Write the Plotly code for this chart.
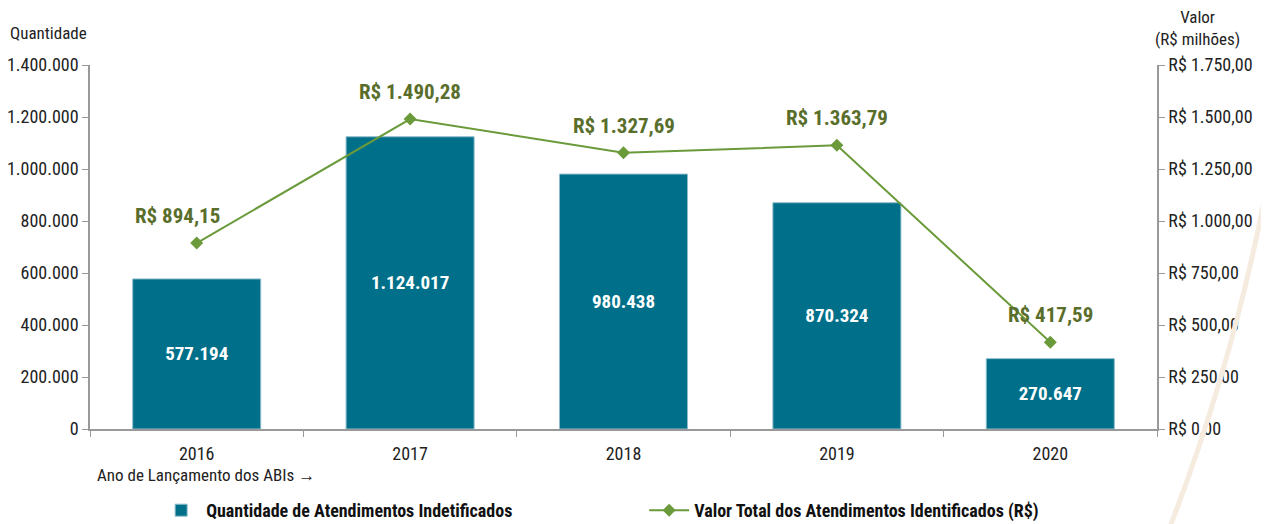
import plotly.graph_objects as go

anos = ["2016", "2017", "2018", "2019", "2020"]
quantidade = [577194, 1124017, 980438, 870324, 270647]
valor_milhoes = [894.15, 1490.28, 1327.69, 1363.79, 417.59]

nome_barras = "Quantidade de Atendimentos Indetificados"
nome_linha = "Valor Total dos Atendimentos Identificados (R$)"

FONTE = "Liberation Sans Narrow, Roboto Condensed, Arial Narrow, Roboto, sans-serif"
AZUL = "#00708a"
VERDE = "#6a9a3a"
VERDE_ESCURO = "#5a6e2c"


def brl(v):
    s = f"{v:,.2f}"
    return "R$ " + s.replace(",", "X").replace(".", ",").replace("X", ".")


fig = go.Figure()

# traco decorativo bege na lateral direita
fig.add_shape(
    type="path",
    xref="paper", yref="paper",
    path="M 1.105 0.70 Q 1.074 0.20 1.012 -0.27",
    line=dict(color="#f5ebdf", width=5),
    layer="above",
)

fig.add_trace(
    go.Bar(
        x=anos,
        y=quantidade,
        name=nome_barras,
        marker=dict(color=AZUL, line=dict(color="#8fbccb", width=1)),
        texttemplate="%{y:,.0f}",
        textposition="inside",
        insidetextanchor="middle",
        textfont=dict(color="white", size=19, family=FONTE, weight="bold"),
        yaxis="y",
    )
)

fig.add_trace(
    go.Scatter(
        x=anos,
        y=valor_milhoes,
        name=nome_linha,
        mode="lines+markers",
        line=dict(color=VERDE, width=2),
        marker=dict(symbol="diamond", size=10, color=VERDE),
        yaxis="y2",
    )
)

# rotulos de valor acima da linha
for i, (a, v) in enumerate(zip(anos, valor_milhoes)):
    fig.add_annotation(
        x=i,
        y=v,
        xref="x",
        yref="y2",
        text=brl(v),
        showarrow=False,
        yshift=27,
        xshift=-19 if i == 0 else 0,
        font=dict(color=VERDE_ESCURO, size=21, family=FONTE, weight="bold"),
    )

fig.add_annotation(
    x=0, xref="paper", xshift=-82, xanchor="left",
    y=1, yref="paper", yshift=32, yanchor="middle",
    text="Quantidade", showarrow=False,
    font=dict(size=17, color="#222", family=FONTE),
)
fig.add_annotation(
    x=1, xref="paper", xshift=40, xanchor="center",
    y=1, yref="paper", yshift=37, yanchor="middle",
    text="Valor<br>(R$ milhões)", showarrow=False,
    font=dict(size=17, color="#222", family=FONTE),
)
fig.add_annotation(
    x=0, xref="paper", xshift=5, xanchor="left",
    y=0, yref="paper", yshift=-46, yanchor="middle",
    text="Ano de Lançamento dos ABIs \u2192", showarrow=False,
    font=dict(size=17, color="#222", family=FONTE),
)

fig.update_layout(
    width=1261,
    height=516,
    margin=dict(l=82, r=112, t=57, b=95, autoexpand=False),
    plot_bgcolor="white",
    paper_bgcolor="white",
    separators=",.",
    bargap=0.4,
    showlegend=True,
    font=dict(family=FONTE, size=18, color="#222"),
    legend=dict(
        orientation="h",
        x=0.062, xanchor="left",
        y=-0.173, yanchor="top",
        entrywidth=433, entrywidthmode="pixels",
        font=dict(size=18, family=FONTE, color="#111", weight="bold"),
        itemwidth=40,
        tracegroupgap=0,
    ),
    xaxis=dict(
        type="category",
        range=[-0.5, 4.5], autorange=False,
        showline=True, linecolor="#999", linewidth=1.5,
        ticks="outside", tickcolor="#999", ticklen=6,
        tickson="boundaries", showgrid=False,
        ticklabelstandoff=8,
        tickfont=dict(size=18, color="#222"),
    ),
    yaxis=dict(
        range=[0, 1400000], dtick=200000, tickformat=",.0f",
        showline=True, linecolor="#999", linewidth=1.5,
        ticks="outside", tickcolor="#999", ticklen=6,
        showgrid=False, zeroline=False,
        tickfont=dict(size=18, color="#222"),
    ),
    yaxis2=dict(
        range=[0, 1750], dtick=250, tickformat=",.2f", tickprefix="R$ ",
        overlaying="y", side="right",
        showline=True, linecolor="#999", linewidth=1.5,
        ticks="outside", tickcolor="#999", ticklen=6,
        showgrid=False, zeroline=False,
        tickfont=dict(size=18, color="#222"),
    ),
)

fig.write_html("out.html")
